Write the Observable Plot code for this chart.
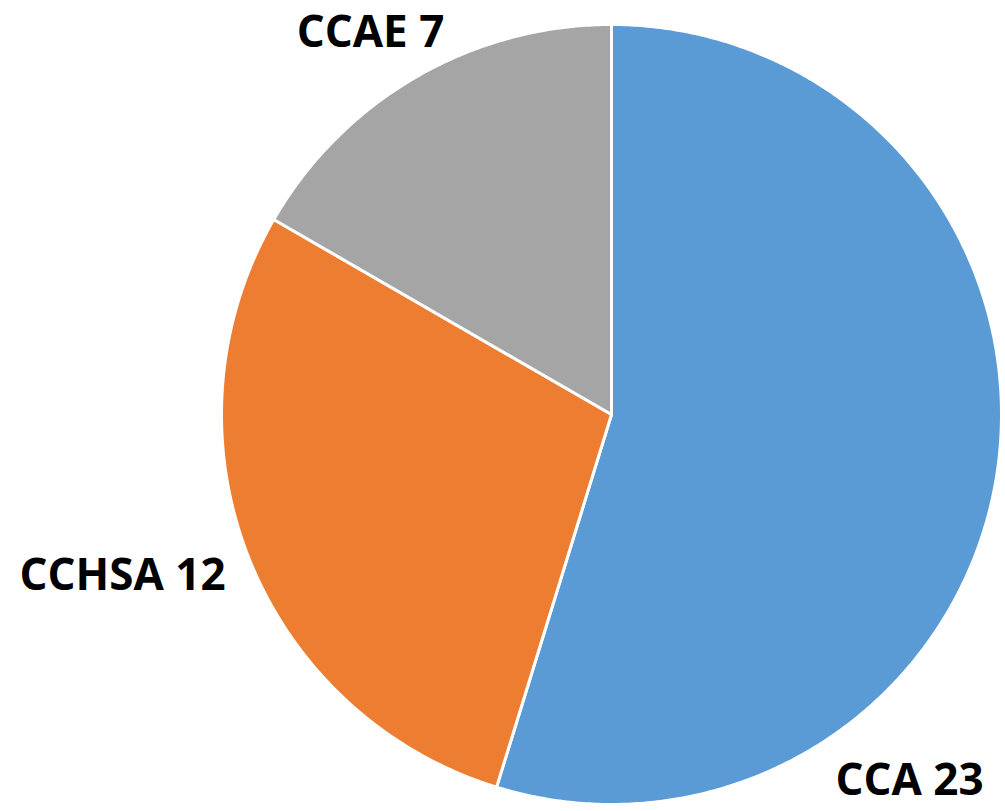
<!DOCTYPE html>
<html>
<head>
<meta charset="utf-8">
<script src="https://cdn.jsdelivr.net/npm/d3@7"></script>
<script src="https://cdn.jsdelivr.net/npm/@observablehq/plot@0.6"></script>
<style>
  html, body { margin: 0; padding: 0; background: #fff; }
</style>
</head>
<body>
<div id="chart"></div>
<script>
const categories = ["CCA", "CCHSA", "CCAE"];
const values = [23, 12, 7];
const colors = ["#5B9BD5", "#ED7D31", "#A5A5A5"];

const W = 1005, H = 811;
const cx = 611, cy = 414, R = 390;

const pie = d3.pie().sort(null).value(d => d.value);
const arcs = pie(categories.map((c, i) => ({ name: c, value: values[i] })));

// Slice outlines (angle 0 at top, clockwise), computed from the data via d3.pie
const pts = [];
arcs.forEach(a => {
  const n = Math.max(8, Math.ceil((a.endAngle - a.startAngle) * 120));
  pts.push({ name: a.data.name, x: cx, y: cy });
  for (let k = 0; k <= n; k++) {
    const t = a.startAngle + (a.endAngle - a.startAngle) * k / n;
    pts.push({ name: a.data.name, x: cx + R * Math.sin(t), y: cy - R * Math.cos(t) });
  }
  pts.push({ name: a.data.name, x: cx, y: cy });
});

// Label offsets from the pie centre (outside-end placement)
const labelPos = {
  CCA: { dx: 298, dy: 366 },
  CCHSA: { dx: -489, dy: 161 },
  CCAE: { dx: -241, dy: -382 }
};
const labelData = arcs.map(a => ({
  x: cx + labelPos[a.data.name].dx,
  y: cy + labelPos[a.data.name].dy,
  text: `${a.data.name} ${a.data.value}`
}));

const chart = Plot.plot({
  width: W,
  height: H,
  margin: 0,
  x: { domain: [0, W], range: [0, W], axis: null },
  y: { domain: [0, H], range: [0, H], axis: null },
  style: { background: "#fff" },
  marks: [
    Plot.line(pts, {
      x: "x", y: "y", z: "name",
      fill: d => colors[categories.indexOf(d.name)],
      stroke: "#fff", strokeWidth: 3, strokeLinejoin: "round", curve: "linear"
    }),
    Plot.text(labelData, {
      x: "x", y: "y", text: "text",
      fontSize: 44, fontWeight: "bold", fill: "#000",
      fontFamily: "'Open Sans', sans-serif", textAnchor: "middle", lineAnchor: "middle"
    })
  ]
});
document.getElementById("chart").appendChild(chart);
</script>
</body>
</html>
